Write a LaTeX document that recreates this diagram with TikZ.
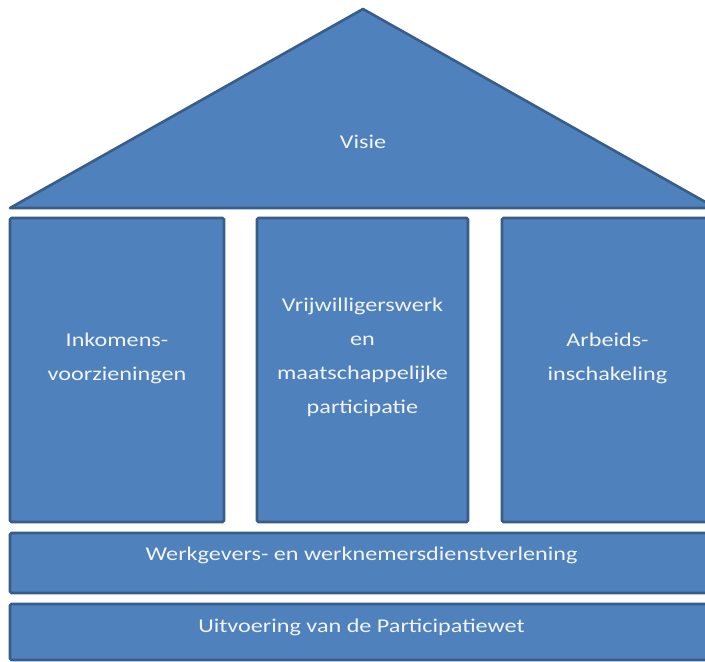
\documentclass[tikz,border=0pt]{standalone}
\usepackage{fontspec}
\setmainfont{Carlito}[FakeStretch=1.24]
\definecolor{fillc}{HTML}{4F81BD}
\definecolor{bordc}{HTML}{385D8A}
\definecolor{txtc}{HTML}{F2F4F8}
\begin{document}
\begin{tikzpicture}[x=1pt,y=-1pt,
  block/.style={draw=bordc, fill=fillc, line width=2.6pt, rounded corners=1.5pt, inner sep=0pt, outer sep=0pt, anchor=north west},
  lbl/.style={text=txtc, align=center, font=\fontsize{19.5}{34}\selectfont, inner sep=0pt}]
\useasboundingbox (0,0) rectangle (705,662);
\clip (0,0) rectangle (705,662);
\fill[white] (0,0) rectangle (705,662);
% roof
\coordinate (apex) at (363,9);
\coordinate (roofR) at (716,208);
\coordinate (roofL) at (10,208);
\draw[draw=bordc, fill=fillc, line width=2.6pt, line join=round] (apex) -- (roofR) -- (roofL) -- cycle;
\node[lbl] (visie) at (363,142) {Visie};
% pillars
\node[block, minimum width=214pt, minimum height=304pt] (p1) at (10,218) {};
\node[block, minimum width=211pt, minimum height=304pt] (p2) at (257,218) {};
\node[block, minimum width=211pt, minimum height=304pt] (p3) at (502,218) {};
\node[lbl] (t1) at ([yshift=12pt]p1.center) {Inkomens-\\voorzieningen};
\node[lbl] (t2) at ([yshift=13pt]p2.center) {Vrijwilligerswerk\\en\\maatschappelijke\\participatie};
\node[lbl] (t3) at ([yshift=12pt]p3.center) {Arbeids-\\inschakeling};
% bands
\node[block, minimum width=703pt, minimum height=60pt] (b1) at (10,533) {};
\node[block, minimum width=703pt, minimum height=56pt] (b2) at (10,604) {};
\node[lbl] (tb1) at ([yshift=8pt]b1.center) {Werkgevers- en werknemersdienstverlening};
\node[lbl] (tb2) at ([yshift=5pt]b2.center) {Uitvoering van de Participatiewet};
\end{tikzpicture}
\end{document}
